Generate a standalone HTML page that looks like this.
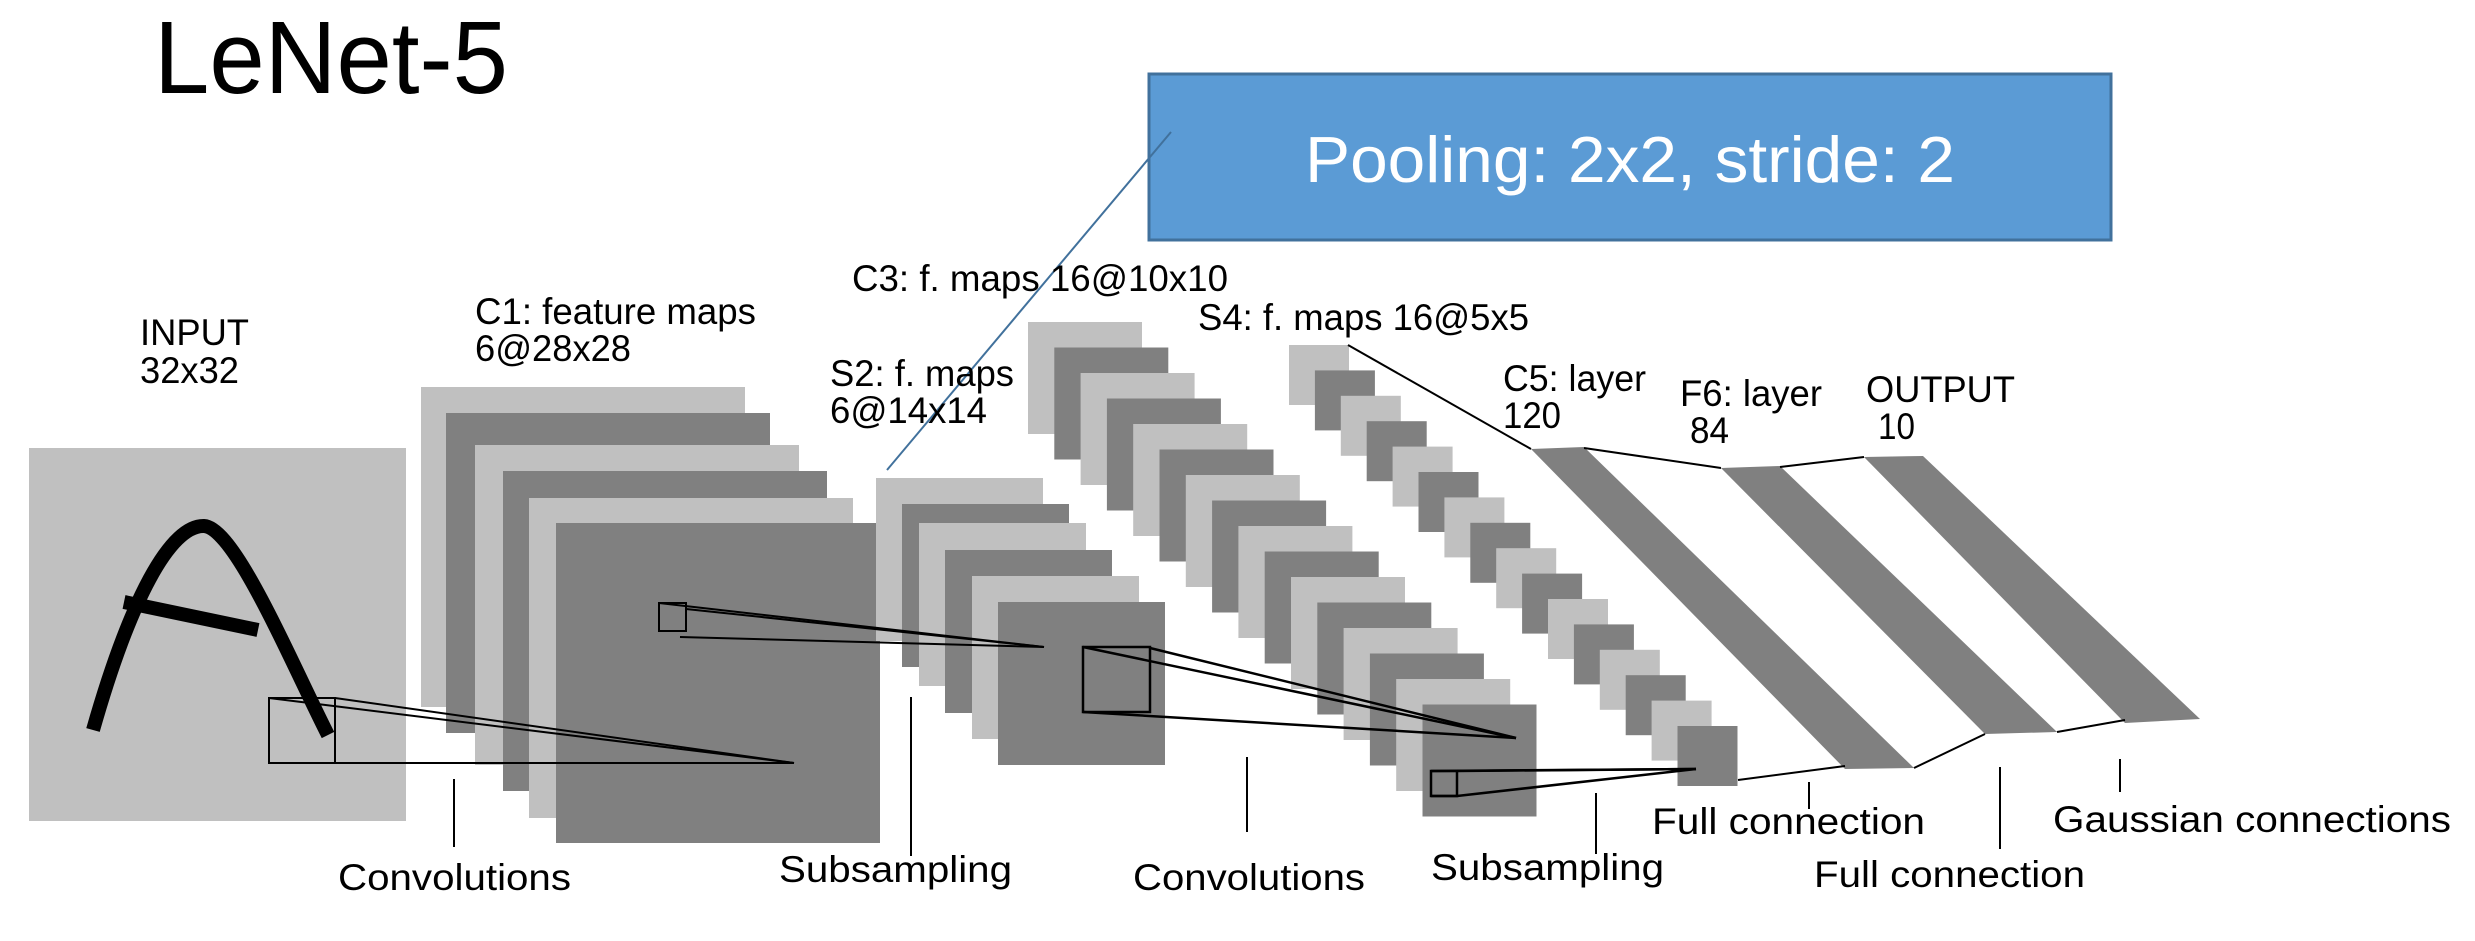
<!DOCTYPE html>
<html><head><meta charset="utf-8"><style>
html,body{margin:0;padding:0;background:#fff;}
svg{display:block;}
text{font-family:"Liberation Sans",Arial,sans-serif;fill:#000;}
</style></head><body>
<svg width="2475" height="941" viewBox="0 0 2475 941" xmlns="http://www.w3.org/2000/svg">
<rect width="2475" height="941" fill="#fff"/>
<!-- Title -->
<text x="154" y="93" font-size="103" textLength="354" lengthAdjust="spacingAndGlyphs">LeNet-5</text>
<!-- Blue box -->
<rect x="1149" y="74" width="962" height="166" fill="#5B9BD5" stroke="#41719C" stroke-width="3"/>
<text x="1305" y="182" font-size="65" textLength="650" lengthAdjust="spacingAndGlyphs" style="fill:#fff">Pooling: 2x2, stride: 2</text>
<line x1="1171" y1="132" x2="887" y2="470" stroke="#41719C" stroke-width="2"/>

<!-- INPUT -->
<rect x="29" y="448" width="377" height="373" fill="#c0c0c0"/>
<g fill="none" stroke="#000" stroke-linecap="butt">
<path d="M93,730 C130,600 170,525 204,526 C235,528 290,660 328,735" stroke-width="14"/>
<line x1="124" y1="602" x2="258" y2="630" stroke-width="14"/>
</g>
<!-- C1 stack -->
<g>
<rect x="421" y="387" width="324" height="320" fill="#c0c0c0"/>
<rect x="446" y="413" width="324" height="320" fill="#808080"/>
<rect x="475" y="445" width="324" height="320" fill="#c0c0c0"/>
<rect x="503" y="471" width="324" height="320" fill="#808080"/>
<rect x="529" y="498" width="324" height="320" fill="#c0c0c0"/>
<rect x="556" y="523" width="324" height="320" fill="#808080"/>
</g>
<!-- input kernel -->
<g fill="none" stroke="#000" stroke-width="2">
<rect x="269" y="698" width="66" height="65"/>
<line x1="269" y1="698" x2="794" y2="763"/>
<line x1="335" y1="698" x2="794" y2="763"/>
<line x1="269" y1="763" x2="794" y2="763"/>
</g>
<!-- S2 stack -->
<g>
<rect x="876" y="478" width="167" height="163" fill="#c0c0c0"/>
<rect x="902" y="504" width="167" height="163" fill="#808080"/>
<rect x="919" y="523" width="167" height="163" fill="#c0c0c0"/>
<rect x="945" y="550" width="167" height="163" fill="#808080"/>
<rect x="972" y="576" width="167" height="163" fill="#c0c0c0"/>
<rect x="998" y="602" width="167" height="163" fill="#808080"/>
</g>
<!-- C1 kernel -->
<g fill="none" stroke="#000" stroke-width="2">
<rect x="659" y="603" width="27" height="28"/>
<line x1="686" y1="609" x2="1044" y2="647"/>
<line x1="680" y1="637" x2="1044" y2="647"/>
<line x1="659" y1="603" x2="1044" y2="647"/>
</g>
<!-- C3 stack -->
<g id="c3"></g>
<!-- S4 stack -->
<g id="s4"></g>
<!-- S2 kernel -->
<g fill="none" stroke="#000" stroke-width="2.5" id="s2k">
<rect x="1083" y="647" width="67" height="65"/>
<line x1="1083" y1="647" x2="1516" y2="738"/>
<line x1="1150" y1="648" x2="1516" y2="738"/>
<line x1="1083" y1="712" x2="1516" y2="738"/>
</g>
<!-- F layers -->
<g fill="#808080">
<polygon points="1531,449 1584,447 1914,768 1845,769"/>
<polygon points="1721,468 1780,466 2057,732 1985,734"/>
<polygon points="1864,457 1923,456 2200,719 2125,723"/>
</g>
<g stroke="#000" stroke-width="2" fill="none">
<line x1="1348" y1="345" x2="1531" y2="449"/>
<line x1="1584" y1="448" x2="1721" y2="468"/>
<line x1="1780" y1="467" x2="1864" y2="457"/>
<line x1="1738" y1="780" x2="1845" y2="766"/>
<line x1="1914" y1="768" x2="1985" y2="734"/>
<line x1="2057" y1="732" x2="2125" y2="720"/>
</g>

<!-- tick lines -->
<g stroke="#000" stroke-width="2">
<line x1="454" y1="779" x2="454" y2="847"/>
<line x1="911" y1="697" x2="911" y2="856"/>
<line x1="1247" y1="757" x2="1247" y2="832"/>
<line x1="1596" y1="793" x2="1596" y2="854"/>
<line x1="1809" y1="782" x2="1809" y2="809"/>
<line x1="2000" y1="767" x2="2000" y2="849"/>
<line x1="2120" y1="759" x2="2120" y2="792"/>
</g>

<!-- labels -->
<g font-size="37">
<text x="140" y="345" textLength="109" lengthAdjust="spacingAndGlyphs">INPUT</text>
<text x="140" y="383" textLength="99" lengthAdjust="spacingAndGlyphs">32x32</text>
<text x="475" y="324" textLength="281" lengthAdjust="spacingAndGlyphs">C1: feature maps</text>
<text x="475" y="361" textLength="156" lengthAdjust="spacingAndGlyphs">6@28x28</text>
<text x="830" y="386" textLength="184" lengthAdjust="spacingAndGlyphs">S2: f. maps</text>
<text x="830" y="423" textLength="157" lengthAdjust="spacingAndGlyphs">6@14x14</text>
<text x="852" y="291" textLength="376" lengthAdjust="spacingAndGlyphs">C3: f. maps 16@10x10</text>
<text x="1198" y="330" textLength="331" lengthAdjust="spacingAndGlyphs">S4: f. maps 16@5x5</text>
<text x="1503" y="391" textLength="143" lengthAdjust="spacingAndGlyphs">C5: layer</text>
<text x="1503" y="428" textLength="58" lengthAdjust="spacingAndGlyphs">120</text>
<text x="1680" y="406" textLength="142" lengthAdjust="spacingAndGlyphs">F6: layer</text>
<text x="1690" y="443" textLength="39" lengthAdjust="spacingAndGlyphs">84</text>
<text x="1866" y="402" textLength="149" lengthAdjust="spacingAndGlyphs">OUTPUT</text>
<text x="1878" y="439" textLength="37" lengthAdjust="spacingAndGlyphs">10</text>
<text x="338" y="890" textLength="233" lengthAdjust="spacingAndGlyphs">Convolutions</text>
<text x="779" y="882" textLength="233" lengthAdjust="spacingAndGlyphs">Subsampling</text>
<text x="1133" y="890" textLength="232" lengthAdjust="spacingAndGlyphs">Convolutions</text>
<text x="1431" y="880" textLength="233" lengthAdjust="spacingAndGlyphs">Subsampling</text>
<text x="1652" y="834" textLength="273" lengthAdjust="spacingAndGlyphs">Full connection</text>
<text x="1814" y="887" textLength="271" lengthAdjust="spacingAndGlyphs">Full connection</text>
<text x="2053" y="832" textLength="398" lengthAdjust="spacingAndGlyphs">Gaussian connections</text>
</g>
</svg>
<script>
(function(){
var ns="http://www.w3.org/2000/svg";
function stack(id,x0,y0,dx,dy,w,h,n){
 var g=document.getElementById(id);
 for(var i=0;i<n;i++){
  var r=document.createElementNS(ns,"rect");
  r.setAttribute("x",(x0+dx*i).toFixed(1));
  r.setAttribute("y",(y0+dy*i).toFixed(1));
  r.setAttribute("width",w);r.setAttribute("height",h);
  r.setAttribute("fill",i%2==0?"#c0c0c0":"#808080");
  g.appendChild(r);
 }
}
stack("c3",1028,322,26.3,25.5,114,112,16);
stack("s4",1289,345,25.9,25.4,60,60,16);
// C3 kernel (drawn after S4)
var svg=document.querySelector("svg");
var g=document.createElementNS(ns,"g");
g.setAttribute("fill","none");g.setAttribute("stroke","#000");g.setAttribute("stroke-width","2.5");
g.innerHTML='<rect x="1431" y="771" width="26" height="25"/><line x1="1431" y1="771" x2="1696" y2="769"/><line x1="1457" y1="771" x2="1696" y2="769"/><line x1="1457" y1="796" x2="1696" y2="769"/><line x1="1431" y1="796" x2="1457" y2="796"/>';
svg.appendChild(g);
})();
</script>
</body></html>
